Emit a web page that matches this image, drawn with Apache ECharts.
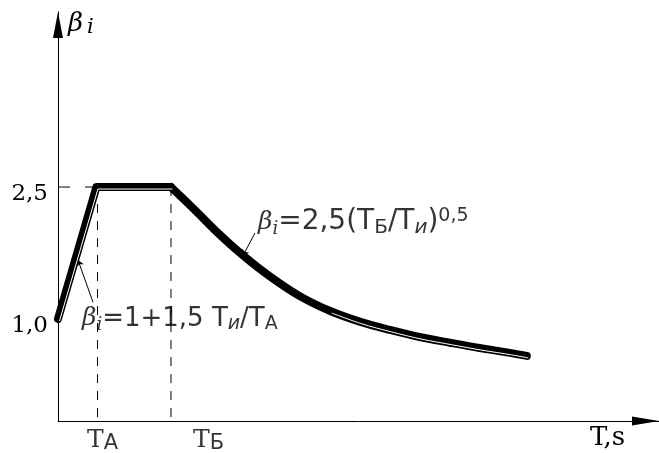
<!DOCTYPE html>
<html><head><meta charset="utf-8">
<script src="https://cdn.jsdelivr.net/npm/echarts@6/dist/echarts.min.js"></script>
<style>html,body{margin:0;padding:0;background:#fff}#c{width:659px;height:453px}</style>
</head><body><div id="c"></div>
<script>
// ---- data ----
const TA = 0.35, TB = 1.0;                 // corner periods
const rampT = [0, 0.34, 1.0];              // linear part: rise then plateau
const rampB = [1.0, 2.5, 2.5];
const decayT = [1.0, 1.21, 1.43, 1.64, 1.88, 2.14, 2.41, 2.67, 2.94, 3.20, 3.47, 3.73, 4.0, 4.15];
const decayB = [2.5, 2.24, 1.96, 1.72, 1.48, 1.26, 1.09, 0.97, 0.875, 0.795, 0.73, 0.67, 0.615, 0.58];
const yTickValues = [1.0, 2.5];
const xMin = 0, xMax = 5.32, yMin = -0.16, yMax = 4.49;
const leader1 = [[0.177, 1.67], [0.31, 1.19]];
const leader2 = [[1.637, 1.716], [1.743, 1.977]];
const notes = [
  {pos: [0.212, 1.0], text: '{b|β}{bi|i}{t|=1+1,5 T}{su|и}{t|/T}{ss|A}'},
  {pos: [1.77, 2.10], text: '{b|β}{bi|i}{t2|=2,5(T}{ss2|Б}{t2|/T}{su2|и}{t2|)}{sp|0,5}'},
  {pos: [0.257, -0.386], text: '{T|T}{x|A}'},
  {pos: [1.195, -0.386], text: '{T|T}{x|Б}'}
];

const zip = (a, b) => a.map((v, i) => [v, b[i]]);
const rampData = zip(rampT, rampB);
const decayData = zip(decayT, decayB);
const tailData = decayData.slice(6);

const K = '#000';
const rich = {
  b:  {fontFamily: 'DejaVu Serif', fontStyle: 'italic', fontSize: 25, lineHeight: 30, color: K},
  bi: {fontFamily: 'DejaVu Serif', fontStyle: 'italic', fontSize: 18, lineHeight: 16, verticalAlign: 'bottom', color: K},
  nb: {fontFamily: 'DejaVu Serif', fontStyle: 'italic', fontSize: 26, lineHeight: 28, color: K},
  ni: {fontFamily: 'DejaVu Serif', fontStyle: 'italic', fontSize: 21, lineHeight: 20, verticalAlign: 'bottom', padding: [0, 0, 0, 4], color: K},
  t:  {fontFamily: 'DejaVu Sans', fontSize: 26, lineHeight: 30, color: K},
  su: {fontFamily: 'DejaVu Sans', fontStyle: 'italic', fontSize: 19, lineHeight: 17, verticalAlign: 'bottom', color: K},
  ss: {fontFamily: 'DejaVu Sans', fontSize: 19, lineHeight: 17, verticalAlign: 'bottom', color: K},
  t2: {fontFamily: 'DejaVu Sans', fontSize: 28, lineHeight: 32, color: K},
  su2:{fontFamily: 'DejaVu Sans', fontStyle: 'italic', fontSize: 20, lineHeight: 18, verticalAlign: 'bottom', color: K},
  ss2:{fontFamily: 'DejaVu Sans', fontSize: 20, lineHeight: 18, verticalAlign: 'bottom', color: K},
  sp: {fontFamily: 'DejaVu Sans', fontSize: 19, lineHeight: 18, verticalAlign: 'top', color: K},
  T:  {fontFamily: 'DejaVu Serif', fontSize: 25, lineHeight: 26, color: K},
  x:  {fontFamily: 'DejaVu Sans', fontSize: 21, lineHeight: 20, verticalAlign: 'bottom', color: K}
};

const thick = {color: K, width: 8, cap: 'round', join: 'round'};
const dashV = {color: K, width: 1, type: [9, 8]};

const chart = echarts.init(document.getElementById('c'), null, {renderer: 'canvas'});
const hiddenAxis = {show: false, type: 'value'};
chart.setOption({
  animation: false,
  backgroundColor: '#fff',
  grid: [
    {left: 58, right: 0, top: 12, bottom: 32, containLabel: false, outerBoundsMode: 'none'},
    {left: 59.5, right: -1.5, top: 14, bottom: 30, containLabel: false, outerBoundsMode: 'none'}
  ],
  xAxis: [{
    type: 'value', min: xMin, max: xMax, gridIndex: 0,
    name: 'T,s', nameLocation: 'end', nameGap: -69, nameMoveOverlap: false,
    nameTextStyle: {fontFamily: 'DejaVu Serif', fontSize: 26, lineHeight: 34, color: K, align: 'left', verticalAlign: 'top'},
    axisLine: {show: true, onZero: false, lineStyle: {color: K, width: 1}, symbol: ['none', 'triangle'], symbolSize: [9, 27], symbolOffset: [0, -13.5]},
    axisTick: {show: false}, axisLabel: {show: false}, splitLine: {show: false}
  }, Object.assign({gridIndex: 1, min: xMin, max: xMax}, hiddenAxis)],
  yAxis: [{
    type: 'value', min: yMin, max: yMax, gridIndex: 0,
    name: '{nb|β}{ni|i}', nameLocation: 'end', nameGap: -12, nameMoveOverlap: false,
    nameTextStyle: {align: 'left', verticalAlign: 'middle', padding: [0, 0, 0, 10], rich: rich},
    axisLine: {show: true, onZero: false, lineStyle: {color: K, width: 1}, symbol: ['none', 'triangle'], symbolSize: [10, 26], symbolOffset: [0, -13]},
    axisTick: {show: false}, splitLine: {show: false},
    axisLabel: {show: true, customValues: yTickValues, margin: 10, verticalAlign: 'top', lineHeight: 14,
      fontFamily: 'DejaVu Serif', fontSize: 23, color: K,
      formatter: v => Number(v).toFixed(1).replace('.', ',')}
  }, Object.assign({gridIndex: 1, min: yMin, max: yMax}, hiddenAxis)],
  series: [
    {type: 'line', data: [[0, 2.5], [TA, 2.5]], symbol: 'none', lineStyle: {color: K, width: 1, type: [12, 15]}, z: 2},
    {type: 'line', data: [[TA, 2.5], [TA, yMin]], symbol: 'none', lineStyle: dashV, z: 2},
    {type: 'line', data: [[TB, 2.5], [TB, yMin]], symbol: 'none', lineStyle: dashV, z: 2},
    {type: 'line', data: rampData, symbol: 'none', lineStyle: thick, z: 5},
    {type: 'line', data: decayData, symbol: 'none', smooth: 0.3, lineStyle: thick, z: 5},
    {type: 'line', xAxisIndex: 1, yAxisIndex: 1, data: rampData, symbol: 'none', lineStyle: {color: '#fff', width: 1}, z: 6},
    {type: 'line', xAxisIndex: 1, yAxisIndex: 1, data: tailData, symbol: 'none', smooth: 0.3, lineStyle: {color: '#fff', width: 1}, z: 6},
    {type: 'line', data: [], symbol: 'none', z: 7,
      markLine: {silent: true, symbol: ['arrow', 'none'], symbolSize: 6, animation: false,
        lineStyle: {color: K, width: 1, type: 'solid'}, label: {show: false},
        data: [
          [{coord: leader1[0]}, {coord: leader1[1]}],
          [{coord: leader2[0]}, {coord: leader2[1]}]
        ]}},
    {type: 'scatter', clip: false, symbolSize: 0, z: 8,
      data: notes.map(n => ({value: n.pos, label: {formatter: n.text}})),
      label: {show: true, position: [0, 0], align: 'left', verticalAlign: 'middle', color: K, textBorderWidth: 0, rich: rich}}
  ]
});
</script></body></html>
